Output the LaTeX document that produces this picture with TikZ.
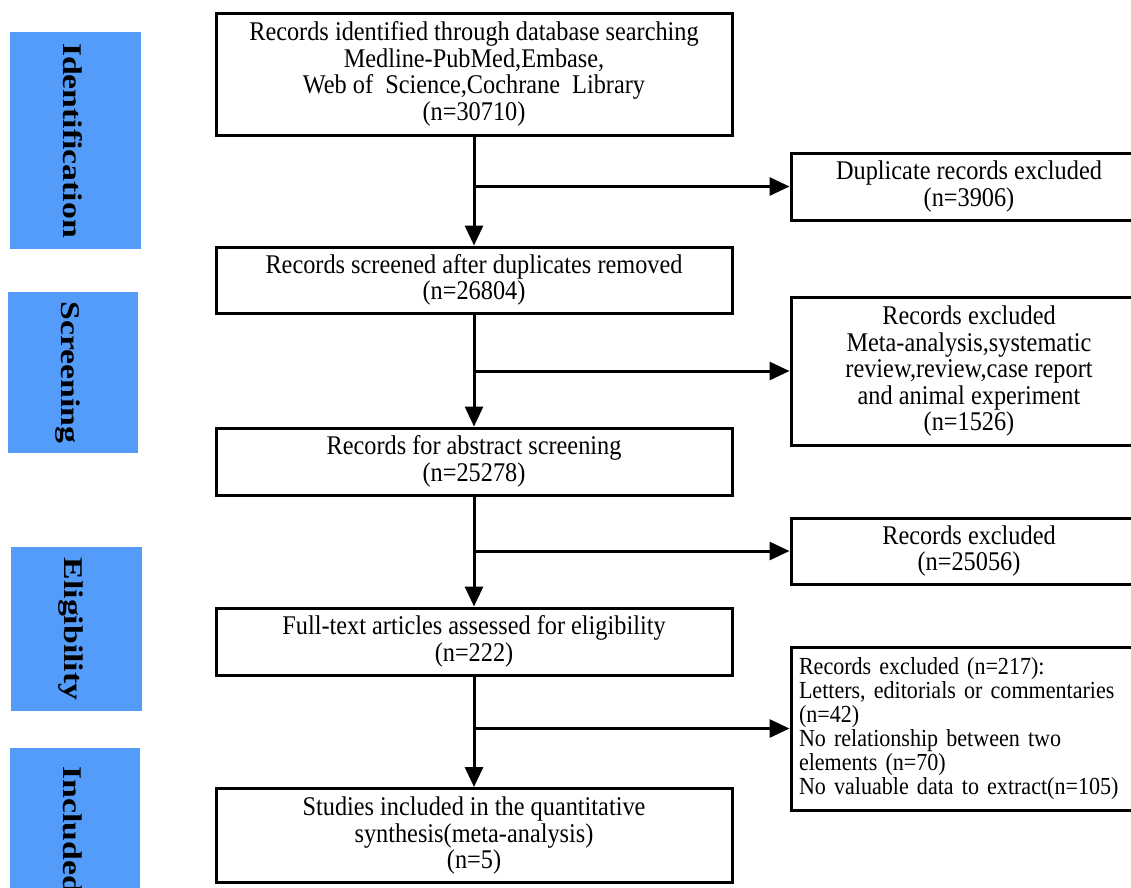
\documentclass[tikz,border=0pt]{standalone}
\usepackage{fontspec}
\setmainfont{Liberation Serif}[FakeStretch=0.9]
\newfontfamily\phasefont{Liberation Serif}[FakeStretch=1.25]
\usetikzlibrary{arrows.meta}
\definecolor{phaseblue}{RGB}{84,156,250}
\begin{document}
\begin{tikzpicture}[x=1pt,y=-1pt,
  box/.style={draw, line width=3pt, fill=white, align=center, inner sep=4pt,
    font=\fontsize{27}{26.5}\selectfont},
  mainbox/.style={box, minimum width=516pt},
  sidebox/.style={box, minimum width=356pt},
  listbox/.style={sidebox, align=left, text width=340pt, inner xsep=8pt,
    font=\fontsize{24.5}{24}\selectfont},
  phase/.style={fill=phaseblue, rotate=-90, inner sep=0pt,
    font=\phasefont\bfseries\fontsize{27}{27}\selectfont,
    text height=24pt, text depth=0pt},
  arr/.style={line width=3pt, -{Triangle[length=20pt,width=18pt]}}]
\useasboundingbox (0,0) rectangle (1131,887);
\clip (0,0) rectangle (1131,887);
\fill[white] (0,0) rectangle (1131,887);

% phase labels
\node[phase, minimum width=217pt, minimum height=131pt] (p1) at (75.5,140.5) {Identification};
\node[phase, minimum width=161pt, minimum height=130pt] (p2) at (73,372.5) {Screening};
\node[phase, minimum width=164pt, minimum height=131pt] (p3) at (76.5,629) {Eligibility};
\node[phase, minimum width=164pt, minimum height=130pt] (p4) at (75,830) {Included};

% main column
\node[mainbox, minimum height=122pt] (b1) at (474,74) {Records identified through database searching\\Medline-PubMed,Embase,\\Web of\ \ Science,Cochrane\ \ Library\\(n=30710)};
\node[mainbox, minimum height=66pt] (b2) at (474,280) {Records screened after duplicates removed\\(n=26804)};
\node[mainbox, minimum height=67pt] (b3) at (474,461.5) {Records for abstract screening\\(n=25278)};
\node[mainbox, minimum height=67pt] (b4) at (474,641.5) {Full-text articles assessed for eligibility\\(n=222)};
\node[mainbox, minimum height=94pt] (b5) at (474,835.5) {Studies included in the quantitative\\synthesis(meta-analysis)\\(n=5)};

% exclusion column
\node[sidebox, minimum height=67pt] (e1) at (969,186.5) {Duplicate records excluded\\(n=3906)};
\node[sidebox, minimum height=148pt] (e2) at (969,371) {Records excluded\\Meta-analysis,systematic\\review,review,case report\\and animal experiment\\(n=1526)};
\node[sidebox, minimum height=66pt] (e3) at (969,551) {Records excluded\\(n=25056)};
\node[listbox, minimum height=163pt] (e4) at (969,728.5) {Records excluded (n=217):\\Letters, editorials or commentaries\\(n=42)\\No relationship between two\\elements (n=70)\\No valuable data to extract(n=105)};

% connectors
\draw[arr] (b1) -- (b2);
\draw[arr] (b2) -- (b3);
\draw[arr] (b3) -- (b4);
\draw[arr] (b4) -- (b5);
\draw[arr] (b1.south |- e1.west) -- (e1.west);
\draw[arr] (b2.south |- e2.west) -- (e2.west);
\draw[arr] (b3.south |- e3.west) -- (e3.west);
\draw[arr] (b4.south |- e4.west) -- (e4.west);
\end{tikzpicture}
\end{document}
